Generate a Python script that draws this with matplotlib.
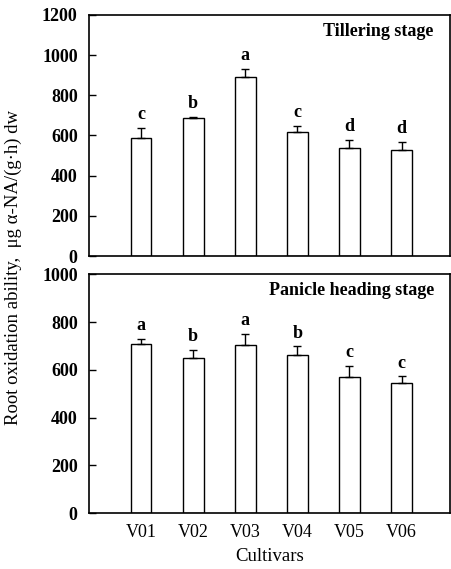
import matplotlib
matplotlib.use('Agg')
import matplotlib.pyplot as plt
import numpy as np

cultivars = ['V01', 'V02', 'V03', 'V04', 'V05', 'V06']
# Tillering stage
till_mean = [586, 687, 890, 619, 536, 528]
till_err = [50, 5, 41, 30, 42, 38]
till_letters = ['c', 'b', 'a', 'c', 'd', 'd']
# Panicle heading stage
head_mean = [707, 648, 702, 663, 571, 547]
head_err = [24, 37, 50, 37, 47, 27]
head_letters = ['a', 'b', 'a', 'b', 'c', 'c']

plt.rcParams['font.family'] = ['Liberation Serif', 'DejaVu Serif']

fig = plt.figure(figsize=(4.51, 5.69), dpi=100)
ax1 = fig.add_axes([0.197, 0.550, 0.801, 0.424])
ax2 = fig.add_axes([0.197, 0.098, 0.801, 0.420])

x = np.arange(1, len(cultivars) + 1)

def draw(ax, mean, err, letters, ymax, title, off):
    ax.bar(x, mean, width=0.4, color='white', edgecolor='black', linewidth=1.0,
           yerr=[np.zeros(len(err)), err], capsize=3,
           error_kw=dict(ecolor='black', elinewidth=1.0, capthick=1.0))
    for xi, m, e, l in zip(x, mean, err, letters):
        ax.text(xi, m + e + off, l, ha='center', va='bottom', fontsize=13, fontweight='bold')
    ax.set_xlim(0, 6.93)
    ax.set_ylim(0, ymax)
    ax.set_yticks(np.arange(0, ymax + 1, 200))
    ax.tick_params(axis='y', direction='in', length=5, labelsize=13, width=1, pad=8)
    ax.tick_params(axis='x', length=0)
    for s in ax.spines.values():
        s.set_linewidth(1.2)
    ax.text(0.955, 0.93, title, transform=ax.transAxes, ha='right', va='center',
            fontsize=13, fontweight='bold')
    for lab in ax.get_yticklabels():
        lab.set_fontweight('bold')

draw(ax1, till_mean, till_err, till_letters, 1200, 'Tillering stage', 25)
ax1.set_xticks(x)
ax1.set_xticklabels([])
draw(ax2, head_mean, head_err, head_letters, 1000, 'Panicle heading stage', 18)
ax2.set_xticks(x)
ax2.set_xticklabels(cultivars, fontsize=13)
ax2.tick_params(axis='x', pad=8)
ax2.set_xlabel('Cultivars', fontsize=13.5, labelpad=5)

fig.text(0.03, 0.529, 'Root oxidation ability,  μg α-NA/(g·h) dw', rotation=90,
         ha='center', va='center', fontsize=13.5)

fig.savefig('out.png', dpi=100)
